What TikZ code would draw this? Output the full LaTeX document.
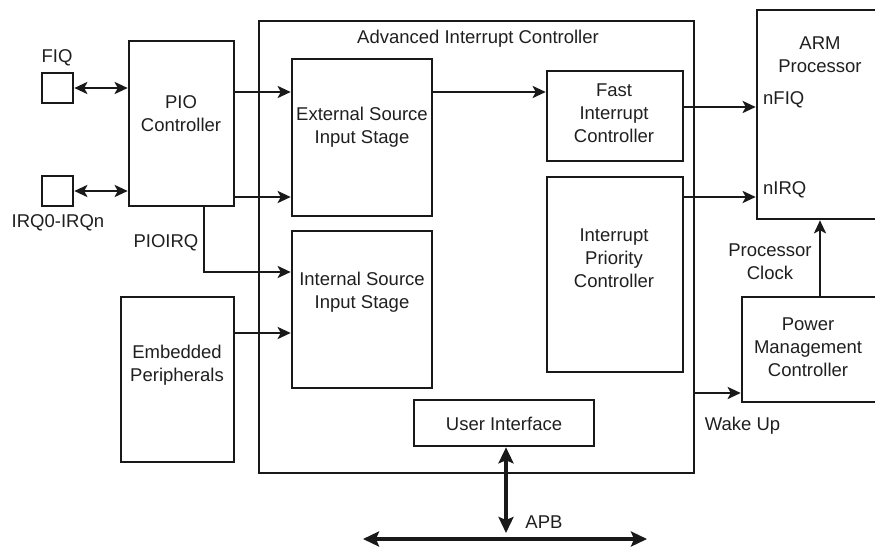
\documentclass[tikz,border=0pt]{standalone}
\usepackage{fontspec}
\setmainfont{Liberation Sans}
\usetikzlibrary{arrows.meta,calc}
\begin{document}
\begin{tikzpicture}[x=1pt,y=-1pt,line join=miter,
  box/.style={draw=black!90,line width=2.6pt,inner sep=0pt},
  txt/.style={font=\fontsize{18.5}{23}\selectfont,align=center,inner sep=0pt,text=black!88},
  arr/.style={draw=black!90,line width=2.4pt,-{Stealth[length=13pt,width=12pt,inset=3pt]}},
  darr/.style={draw=black!90,line width=2.4pt,{Stealth[length=13pt,width=12pt,inset=3pt]}-{Stealth[length=13pt,width=12pt,inset=3pt]}},
  busarr/.style={draw=black!90,line width=4.8pt,{Stealth[length=16pt,width=15pt,inset=3pt]}-{Stealth[length=16pt,width=15pt,inset=3pt]}}]
\useasboundingbox (0,0) rectangle (875,546);
\clip (0,0) rectangle (875,546);
% boxes
\node[box,minimum width=31pt,minimum height=30pt] (fiq) at (57.5,88) {};
\node[box,minimum width=31pt,minimum height=30pt] (irq) at (57.5,191) {};
\node[box,minimum width=105pt,minimum height=165pt] (pio) at (181.5,123.5) {};
\node[box,minimum width=113pt,minimum height=165pt] (emb) at (177.5,379.5) {};
\node[box,minimum width=435pt,minimum height=452pt] (aic) at (476.5,247) {};
\node[box,minimum width=140pt,minimum height=157pt] (ext) at (362,137.5) {};
\node[box,minimum width=140pt,minimum height=157pt] (int) at (362,309.5) {};
\node[box,minimum width=136pt,minimum height=90pt] (fast) at (615,116) {};
\node[box,minimum width=136pt,minimum height=195pt] (prio) at (615,274.5) {};
\node[box,minimum width=180pt,minimum height=46pt] (ui) at (504,423) {};
\node[box,minimum width=143pt,minimum height=209pt] (arm) at (828.5,114.5) {};
\node[box,minimum width=158pt,minimum height=105pt] (pmc) at (821,349.5) {};
% texts
\node[txt] (tfiq) at (57,58) {FIQ};
\node[txt] (tirq) at (58,223) {IRQ0-IRQn};
\node[txt] (tpioirq) at (166,243) {PIOIRQ};
\node[txt] (tpio) at (181,114) {PIO\\Controller};
\node[txt] (taic) at (478,39) {Advanced Interrupt Controller};
\node[txt] (text) at (362,127.5) {External Source\\Input Stage};
\node[txt] (tint) at (362,292.5) {Internal Source\\Input Stage};
\node[txt] (tfast) at (614,113) {Fast\\Interrupt\\Controller};
\node[txt] (tprio) at (614,258) {Interrupt\\Priority\\Controller};
\node[txt] (temb) at (177,365.5) {Embedded\\Peripherals};
\node[txt] (tui) at (504,424) {User Interface};
\node[txt] (tarm) at (820,54.5) {ARM\\Processor};
\node[txt,anchor=west] (tnfiq) at (763,100) {nFIQ};
\node[txt,anchor=west] (tnirq) at (763,190) {nIRQ};
\node[txt] (tclk) at (770,261.5) {Processor\\Clock};
\node[txt] (tpmc) at (808,347) {Power\\Management\\Controller};
\node[txt] (twake) at (742.5,426) {Wake Up};
\node[txt] (tapb) at (544,522) {APB};
% levels
\coordinate (yA) at (0,92);
\coordinate (yB) at (0,197);
\coordinate (yI) at (0,272);
\coordinate (yE) at (0,333);
\coordinate (yF) at (0,107);
\coordinate (yW) at (0,393);
\coordinate (xP) at (204,0);
\coordinate (xC) at (820,0);
\coordinate (xB) at (506,0);
\coordinate (busend) at (506,533);
\coordinate (busL) at (363,539);
\coordinate (busR) at (647,539);
% connectors
\draw[darr] (fiq.east) -- (fiq.east -| pio.west);
\draw[darr] (irq.east) -- (irq.east -| pio.west);
\draw[arr] (pio.east |- yA) -- (ext.west |- yA);
\draw[arr] (pio.east |- yB) -- (ext.west |- yB);
\draw[arr] (pio.south -| xP) |- (int.west |- yI);
\draw[arr] (emb.east |- yE) -- (int.west |- yE);
\draw[arr] (ext.east |- yA) -- (fast.west |- yA);
\draw[arr] (fast.east |- yF) -- (arm.west |- yF);
\draw[arr] (prio.east |- yB) -- (arm.west |- yB);
\draw[arr] (aic.east |- yW) -- (pmc.west |- yW);
\draw[arr] (pmc.north -| xC) -- (arm.south -| xC);
\draw[busarr] (ui.south -| xB) -- (busend);
\draw[busarr] (busL) -- (busR);
\end{tikzpicture}
\end{document}
